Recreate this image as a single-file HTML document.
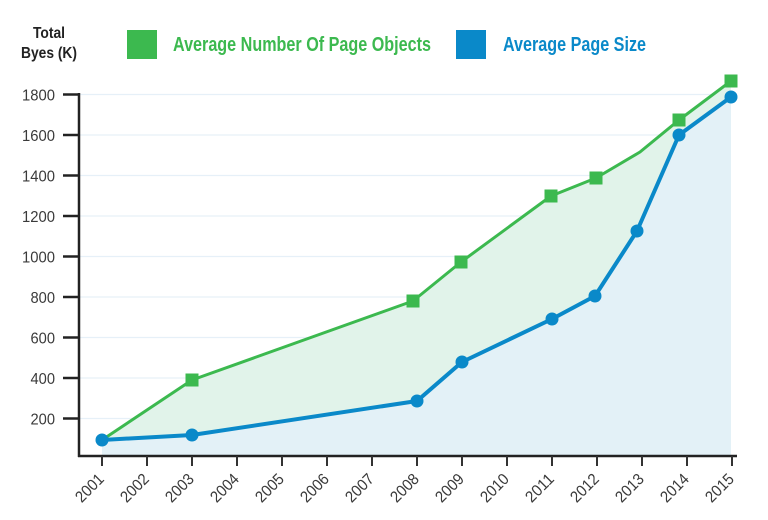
<!DOCTYPE html>
<html><head><meta charset="utf-8"><style>
html,body{margin:0;padding:0;background:#fff;}
svg{display:block;}
text{font-family:"Liberation Sans Narrow","Liberation Sans",sans-serif;}
</style></head><body>
<svg width="768" height="520" viewBox="0 0 768 520" xmlns="http://www.w3.org/2000/svg">
<rect width="768" height="520" fill="#fff"/>
<!-- title -->
<text x="49" y="38" font-size="16" font-weight="bold" fill="#222" text-anchor="middle" textLength="32" lengthAdjust="spacingAndGlyphs">Total</text>
<text x="49" y="58" font-size="16" font-weight="bold" fill="#222" text-anchor="middle" textLength="56" lengthAdjust="spacingAndGlyphs">Byes (K)</text>
<!-- legend -->
<rect x="127" y="30" width="30" height="29" fill="#3cb94f"/>
<text x="173" y="51" font-size="20" font-weight="bold" fill="#3cb94f" textLength="258" lengthAdjust="spacingAndGlyphs">Average Number Of Page Objects</text>
<rect x="456" y="30" width="30" height="29" fill="#0a89c9"/>
<text x="503" y="51" font-size="20" font-weight="bold" fill="#0a89c9" textLength="143" lengthAdjust="spacingAndGlyphs">Average Page Size</text>
<!-- gridlines -->
<g stroke="#e6f0f8" stroke-width="1.2">
<line x1="80" y1="94.5" x2="731" y2="94.5"/>
<line x1="80" y1="135" x2="731" y2="135"/>
<line x1="80" y1="175.5" x2="731" y2="175.5"/>
<line x1="80" y1="216" x2="731" y2="216"/>
<line x1="80" y1="256.5" x2="731" y2="256.5"/>
<line x1="80" y1="297" x2="731" y2="297"/>
<line x1="80" y1="337.5" x2="731" y2="337.5"/>
<line x1="80" y1="378" x2="731" y2="378"/>
<line x1="80" y1="418.5" x2="731" y2="418.5"/>
</g>
<!-- fills -->
<polygon fill="#e1f3ea" points="102,440 192,380 413,301 461,262 551,196 596,178 640,152 679,120 731,81 731,456 102,456"/>
<polygon fill="#e3f1f7" points="102,440 192,435 417,401 462,362 552,319 595,296 637,231 679,135 731,97 731,456 102,456"/>
<!-- green line -->
<polyline fill="none" stroke="#3cb94f" stroke-width="3" stroke-linejoin="round" points="102,440 192,380 413,301 461,262 551,196 596,178 640,152 679,120 731,81"/>
<g fill="#3cb94f">
<rect x="185.5" y="373.5" width="13" height="13"/>
<rect x="406.5" y="294.5" width="13" height="13"/>
<rect x="454.5" y="255.5" width="13" height="13"/>
<rect x="544.5" y="189.5" width="13" height="13"/>
<rect x="589.5" y="171.5" width="13" height="13"/>
<rect x="672.5" y="113.5" width="13" height="13"/>
<rect x="724.5" y="74.5" width="13" height="13"/>
</g>
<!-- blue line -->
<polyline fill="none" stroke="#0a89c9" stroke-width="4" stroke-linejoin="round" points="102,440 192,435 417,401 462,362 552,319 595,296 637,231 679,135 731,97"/>
<g fill="#0a89c9">
<circle cx="102" cy="440" r="6.5"/>
<circle cx="192" cy="435" r="6.5"/>
<circle cx="417" cy="401" r="6.5"/>
<circle cx="462" cy="362" r="6.5"/>
<circle cx="552" cy="319" r="6.5"/>
<circle cx="595" cy="296" r="6.5"/>
<circle cx="637" cy="231" r="6.5"/>
<circle cx="679" cy="135" r="6.5"/>
<circle cx="731" cy="97" r="6.5"/>
</g>
<!-- axes -->
<g stroke="#222" stroke-width="2.5">
<line x1="79" y1="93" x2="79" y2="457"/>
<line x1="78" y1="456" x2="737" y2="456"/>
<line x1="63" y1="94.5" x2="79" y2="94.5"/>
<line x1="63" y1="135" x2="79" y2="135"/>
<line x1="63" y1="175.5" x2="79" y2="175.5"/>
<line x1="63" y1="216" x2="79" y2="216"/>
<line x1="63" y1="256.5" x2="79" y2="256.5"/>
<line x1="63" y1="297" x2="79" y2="297"/>
<line x1="63" y1="337.5" x2="79" y2="337.5"/>
<line x1="63" y1="378" x2="79" y2="378"/>
<line x1="63" y1="418.5" x2="79" y2="418.5"/>
</g>
<g stroke="#333" stroke-width="2">
<line x1="102" y1="456" x2="102" y2="466"/>
<line x1="147" y1="456" x2="147" y2="466"/>
<line x1="192" y1="456" x2="192" y2="466"/>
<line x1="237" y1="456" x2="237" y2="466"/>
<line x1="282" y1="456" x2="282" y2="466"/>
<line x1="327" y1="456" x2="327" y2="466"/>
<line x1="372" y1="456" x2="372" y2="466"/>
<line x1="417" y1="456" x2="417" y2="466"/>
<line x1="462" y1="456" x2="462" y2="466"/>
<line x1="507" y1="456" x2="507" y2="466"/>
<line x1="552" y1="456" x2="552" y2="466"/>
<line x1="597" y1="456" x2="597" y2="466"/>
<line x1="642" y1="456" x2="642" y2="466"/>
<line x1="687" y1="456" x2="687" y2="466"/>
<line x1="732" y1="456" x2="732" y2="466"/>
</g>
<!-- y labels -->
<g font-size="16" fill="#3a3a3a" text-anchor="end">
<text x="55" y="100.5" textLength="33" lengthAdjust="spacingAndGlyphs">1800</text>
<text x="55" y="141" textLength="33" lengthAdjust="spacingAndGlyphs">1600</text>
<text x="55" y="181.5" textLength="33" lengthAdjust="spacingAndGlyphs">1400</text>
<text x="55" y="222" textLength="33" lengthAdjust="spacingAndGlyphs">1200</text>
<text x="55" y="262.5" textLength="33" lengthAdjust="spacingAndGlyphs">1000</text>
<text x="55" y="303" textLength="24.5" lengthAdjust="spacingAndGlyphs">800</text>
<text x="55" y="343.5" textLength="24.5" lengthAdjust="spacingAndGlyphs">600</text>
<text x="55" y="384" textLength="24.5" lengthAdjust="spacingAndGlyphs">400</text>
<text x="55" y="424.5" textLength="24.5" lengthAdjust="spacingAndGlyphs">200</text>
</g>
<!-- x labels -->
<g font-size="16" fill="#3a3a3a" text-anchor="end">
<text transform="translate(105,480) rotate(-45)" textLength="33" lengthAdjust="spacingAndGlyphs">2001</text>
<text transform="translate(150,480) rotate(-45)" textLength="33" lengthAdjust="spacingAndGlyphs">2002</text>
<text transform="translate(195,480) rotate(-45)" textLength="33" lengthAdjust="spacingAndGlyphs">2003</text>
<text transform="translate(240,480) rotate(-45)" textLength="33" lengthAdjust="spacingAndGlyphs">2004</text>
<text transform="translate(285,480) rotate(-45)" textLength="33" lengthAdjust="spacingAndGlyphs">2005</text>
<text transform="translate(330,480) rotate(-45)" textLength="33" lengthAdjust="spacingAndGlyphs">2006</text>
<text transform="translate(375,480) rotate(-45)" textLength="33" lengthAdjust="spacingAndGlyphs">2007</text>
<text transform="translate(420,480) rotate(-45)" textLength="33" lengthAdjust="spacingAndGlyphs">2008</text>
<text transform="translate(465,480) rotate(-45)" textLength="33" lengthAdjust="spacingAndGlyphs">2009</text>
<text transform="translate(510,480) rotate(-45)" textLength="33" lengthAdjust="spacingAndGlyphs">2010</text>
<text transform="translate(555,480) rotate(-45)" textLength="33" lengthAdjust="spacingAndGlyphs">2011</text>
<text transform="translate(600,480) rotate(-45)" textLength="33" lengthAdjust="spacingAndGlyphs">2012</text>
<text transform="translate(645,480) rotate(-45)" textLength="33" lengthAdjust="spacingAndGlyphs">2013</text>
<text transform="translate(690,480) rotate(-45)" textLength="33" lengthAdjust="spacingAndGlyphs">2014</text>
<text transform="translate(735,480) rotate(-45)" textLength="33" lengthAdjust="spacingAndGlyphs">2015</text>
</g>
</svg>
</body></html>
